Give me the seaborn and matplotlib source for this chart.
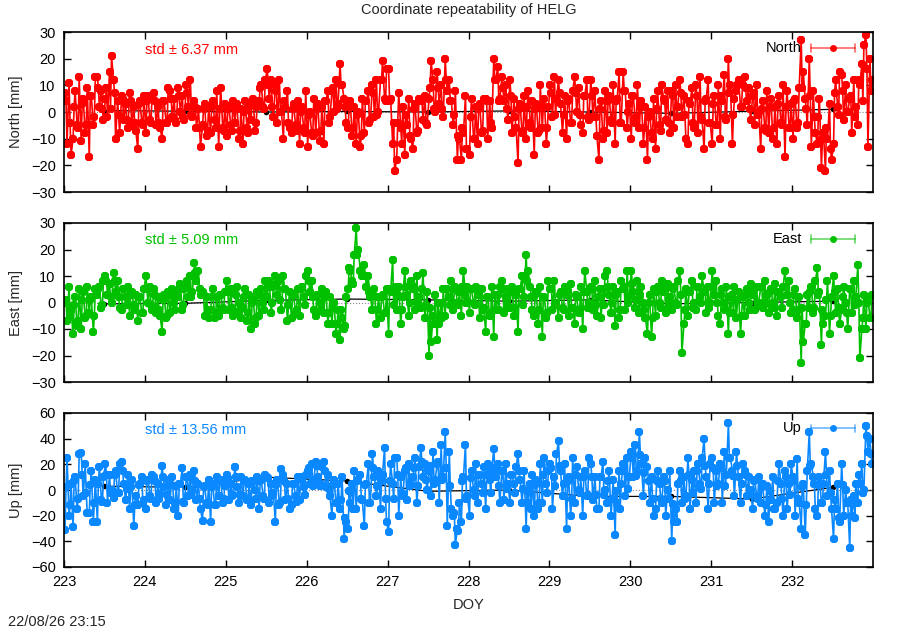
import numpy as np
import pandas as pd
import matplotlib
matplotlib.use("Agg")
import matplotlib.pyplot as plt
import seaborn as sns
from matplotlib.lines import Line2D

# ---------------- data ----------------
title = "Coordinate repeatability of HELG"
stamp = "22/08/26 23:15"
day_ticks = [223, 224, 225, 226, 227, 228, 229, 230, 231, 232]
epoch_start = 223.0125      # extreme-value epochs
epoch_step = 0.025
core_start = 223.025        # epochs of the dense core of the cloud
core_step = 0.05

north = [
    7, -12, 11, -16, -10, 8, -5, 13, -11, 5, -8, 9, -17, 6, -5, 13, 13, 2, 8, -3,
    5, -2, 15, 21, 12, -10, 4, -8, 6, -3, 3, -6, 7, -5, 2, -7, -14, 4, -4, 6,
    -8, 6, -3, 5, 7, -5, 2, -6, -10, 4, -4, 9, 8, -2, 5, -4, 9, 0, 6, -3,
    10, 2, 12, -2, 4, -6, 1, -13, -5, 3, -9, 2, -8, 4, -3, 8, -13, 9, -6, 3,
    -9, 2, -5, 4, -4, 3, -10, 1, -12, 4, -6, 2, -3, 5, -7, 2, 4, 10, 2, 12,
    16, 5, 12, -2, 10, -4, 12, 0, -10, 2, 8, -6, -8, 3, -5, 4, -12, 2, -6, 8,
    -13, 0, -8, 5, -8, 3, -11, 2, -12, 4, 8, -2, 8, 0, 12, 3, 18, 10, 5, -4,
    -6, 4, -9, 2, -12, 0, -13, 5, -8, 4, 8, -3, 10, -2, 12, 0, 12, 19, 5, 16,
    16, 5, -12, -22, -18, 7, -6, 2, -16, -5, 5, -10, -14, 3, -8, 5, 4, -3, 6, -5,
    5, 19, 12, 0, 15, 3, 10, -2, 20, 8, 12, 4, -5, 8, -18, -10, -18, -8, 6, -14,
    -16, 5, -10, 2, -12, 3, -8, 5, 5, -10, 4, -6, 20, 12, 17, 5, 13, 4, 10, -3,
    12, -8, 5, -6, -19, 3, -8, 6, -10, 8, -4, 4, -16, 3, -8, 10, -6, 5, -12, 2,
    10, -2, 13, 5, 12, 3, -8, 6, -10, 5, -4, 8, 13, 0, 9, -5, -8, 6, 12, -3,
    12, -2, 8, -9, -18, 4, -10, 8, -8, 6, -3, 10, -12, 5, 15, -4, 15, 8, -6, 3,
    -10, 6, -4, 10, -6, 4, -12, 2, -18, 0, -8, 5, -14, 8, -5, 10, 5, -3, 8, -8,
    8, -6, 10, 2, 12, -2, 6, -10, -12, 3, 9, -6, 10, -8, 13, -3, -14, 5, 12, -4,
    -12, 6, -5, 10, -10, 4, 14, -3, 20, 10, -12, 5, 8, 12, 2, 10, 13, 4, 9, -3,
    6, -5, 10, 0, -14, 4, -6, 8, -8, 5, -10, 2, -12, 6, -4, 10, -17, 8, -6, 3,
    -10, 5, -6, 9, 27, 15, 5, -5, 20, -13, 8, -8, -12, 5, -21, -8, -22, -10, 3, -18,
    -12, 12, 2, 15, 14, -3, 10, 0, 5, -8, 12, 2, -5, 10, 18, 25, 29, -13, 20, 12,
]
north_core = [
    4, -4, 2, -6, 3, -5, 6, -2, 9, 1, 9, 1, 7, -1, 5, -3, 4, -4, 3, -5,
    4, -4, 4, -4, 4, -4, 5, -3, 6, -2, 7, -1, 2, -6, 1, -7, 2, -6, 1, -7,
    1, -7, 1, -7, 0, -8, 4, -4, 9, 1, 10, 2, 8, 0, 4, -4, 1, -7, 0, -8,
    -1, -9, 1, -7, 4, -4, 9, 1, 10, 2, 2, -6, -1, -9, 4, -4, 7, -1, 12, 4,
    4, -4, -4, -12, -1, -9, 1, -7, 4, -4, 9, 1, 9, 1, 12, 4, -1, -9, -6, -14,
    -2, -10, 1, -7, 4, -4, 12, 4, 9, 1, 6, -2, 1, -7, 2, -6, 1, -7, 2, -6,
    7, -1, 7, -1, 4, -4, 7, -1, 6, -2, 6, -2, 1, -7, 4, -4, 4, -4, 8, 0,
    6, -2, 2, -6, -2, -10, 1, -7, 4, -4, 6, -2, 7, -1, 4, -4, 6, -2, 4, -4,
    3, -5, 6, -2, 7, -1, 10, 2, 9, 1, 7, -1, 1, -7, 2, -6, 3, -5, 2, -6,
    4, -4, 9, 1, 6, -2, -2, -10, -6, -14, 7, -1, 8, 0, 6, -2, 12, 4, 16, 8,
]

east = [
    0, -7, 6, -3, -12, 2, -9, 5, -10, 4, -6, 6, -4, 2, -11, 5, 3, 6, -2, 8,
    10, 3, 7, 0, 11, 4, 8, -2, -3, 5, 2, 6, -5, 4, -1, 3, -7, 2, -4, 5,
    10, 0, 6, -3, 5, -4, 2, -5, -11, 3, -6, 4, -4, 5, 0, 3, 2, 7, -3, 5,
    7, 2, 10, 4, 15, 8, 12, 3, 4, -5, 2, -6, -3, 5, -6, 2, -5, 3, -2, 4,
    8, -3, 5, -5, -4, 6, 0, -6, -2, 5, -7, 3, -10, 2, -8, 4, -5, 5, 0, 8,
    2, 8, -4, 6, 10, 3, 8, -3, 10, 5, -7, 4, -6, 3, -4, 5, -5, 6, 2, 10,
    12, 4, 8, -3, -5, 3, 0, 5, -4, 4, -8, 2, -8, 0, -12, -3, -14, -6, -10, 2,
    5, 12, 8, 18, 28, 20, 12, 10, 14, 6, 10, 2, -3, 5, -8, 2, -6, 3, -4, 5,
    -12, 4, 16, 6, -3, 6, -8, 2, 12, 3, -5, 8, 5, -3, 10, 2, -2, 11, -6, 4,
    -20, -15, -5, 3, -14, -8, 0, 5, -5, 5, 2, 8, -3, 6, 0, 4, -5, 12, 3, 6,
    -4, 5, 0, 6, 3, -6, 5, -2, -11, 2, -5, 6, -13, -3, 3, 6, 8, -4, 2, 5,
    -2, 6, -5, 3, -11, 5, 10, 2, 18, 12, 6, -3, -5, 4, -8, 6, -13, 2, -6, 8,
    5, -3, 8, 0, -6, 4, -2, 6, 3, -5, 7, -2, -8, 2, -4, 6, -10, 12, 4, 0,
    6, -3, 8, -5, 2, -6, 5, 10, 12, 3, -4, 6, -9, 4, -6, 8, 5, -3, 12, 2,
    12, 4, -2, 8, -4, 6, 0, -6, -12, 3, -13, 5, -5, 6, 0, 8, 4, -4, 7, 2,
    -3, 6, 0, 8, 12, -19, -8, 5, -5, 4, 8, 0, -3, 6, 2, 10, 4, -4, 6, 0,
    12, 3, 8, -5, -8, 5, 0, 6, -12, -4, 3, 6, -6, 4, -12, 2, -5, 5, 0, 7,
    3, -3, 6, 0, 6, -2, 8, 3, -4, 5, 0, 7, -5, 4, 2, 6, 12, 3, 8, -4,
    -3, 5, -6, 2, -23, -15, -8, 3, -2, 6, -4, 8, 13, 4, -16, -8, -5, 8, -12, 2,
    10, -4, 5, -8, -3, 6, 0, -10, 5, -4, 8, 2, 14, -21, -10, 3, -10, 2, -6, 3,
]
east_core = [
    1, -5, -1, -7, 1, -5, 1, -5, 5, -1, 8, 2, 8, 2, 5, -1, 3, -3, 2, -4,
    5, -1, 3, -3, 1, -5, 3, -3, 5, -1, 8, 2, 11, 5, 3, -3, 2, -4, 3, -3,
    4, -2, 3, -3, 2, -4, 0, -6, 3, -3, 6, 0, 7, 1, 5, -1, 3, -3, 5, -1,
    8, 2, 3, -3, 2, -4, -2, -8, -3, -9, 13, 7, 18, 12, 10, 4, 3, -3, 2, -4,
    5, -1, 3, -3, 6, 0, 6, 0, 5, -1, -2, -8, 0, -6, 5, -1, 5, -1, 6, 0,
    5, -1, 3, -3, 2, -4, 3, -3, 5, -1, 4, -2, 5, -1, 8, 2, 3, -3, 2, -4,
    5, -1, 3, -3, 4, -2, 3, -3, 4, -2, 5, -1, 5, -1, 6, 0, 3, -3, 6, 0,
    7, 1, 3, -3, 0, -6, 4, -2, 5, -1, 5, -1, 3, -3, 4, -2, 6, 0, 4, -2,
    6, 0, 3, -3, 2, -4, 1, -5, 3, -3, 5, -1, 6, 0, 4, -2, 4, -2, 6, 0,
    3, -3, -2, -8, 4, -2, 3, -3, 1, -5, 4, -2, 2, -4, 5, -1, 0, -6, 0, -6,
]

up = [
    -31, 25, -20, 5, -29, 10, -15, 28, 29, -5, 20, -18, -18, 15, -25, 8, -25, 18, -8, 10,
    20, -10, 12, 0, -6, 15, -2, 20, 22, 5, -8, 12, -15, 8, -28, -5, -12, 5, 10, -8,
    -15, 8, -5, 12, 10, -10, 5, -3, 19, 2, -12, 8, -8, 10, -15, 3, -20, 5, 17, -10,
    10, -5, 12, 0, 15, -8, 5, -15, -24, 3, -10, 8, -25, 5, -12, 10, -5, 8, -10, 3,
    12, -8, 5, -4, 18, 2, -10, 10, -5, 8, -8, 5, -12, 6, 0, 10, -15, 8, -5, 12,
    10, -10, 5, -2, -25, 8, -12, 16, 12, -8, 5, -15, -12, 5, -5, 10, -8, 8, 2, 12,
    15, 5, 20, 8, 22, 10, 3, 18, 22, 2, 12, -5, -20, 8, -10, 5, -15, 10, -38, -25,
    -30, -10, 5, 15, -15, 8, 12, -8, -28, 5, 20, -10, 28, 10, -5, 15, -15, 12, 33, -25,
    -33, 20, 5, 25, 25, -20, 10, -5, 15, -8, 20, 5, 10, 25, -10, 18, 33, 10, 20, 0,
    15, -5, 30, 8, 20, -10, 35, 10, 45, -28, 30, -15, -20, -43, -30, -10, -25, 10, 35, -5,
    -20, 15, 0, 20, -10, 12, 5, 18, -15, 20, 8, 15, 32, 10, 20, -10, 15, -8, 20, 5,
    -10, 12, 5, 18, 28, 8, -10, 15, -30, -10, 5, 12, -20, 8, -15, 20, -10, 25, 5, 15,
    20, -15, 10, 28, 38, 15, -5, 20, -30, 10, -20, 25, -10, 18, 0, 10, -20, 15, -5, 25,
    20, -8, 10, -15, -15, 10, 22, 0, -10, 15, -20, 8, -35, -10, 15, 5, 20, -5, 25, 10,
    30, 10, 35, 15, 45, 20, -5, 25, 18, -10, 10, -20, -15, 15, 5, -10, 10, -20, 0, 15,
    -40, -25, -15, 5, 15, -10, 10, -5, 25, -15, 8, 15, -10, 20, 5, 25, 40, 10, -15, 20,
    25, -10, 15, 5, 20, -10, 30, 12, 52, 25, 15, -5, 30, 10, -10, 20, 15, -5, 10, 0,
    -15, 8, -5, 10, -10, 5, -20, 3, -25, -8, 10, -15, -10, 20, 5, -20, 15, -15, 5, 20,
    10, -20, 24, -10, -30, 5, -35, 15, 45, 20, 10, -15, -20, 10, -10, 5, 30, -5, 15, -15,
    -38, -15, 5, -25, 20, -20, 0, -10, -45, -20, -5, 5, -10, 5, 20, 0, 50, 30, 40, 20,
]
up_core = [
    2, -12, 7, -7, 12, -2, 4, -10, 5, -9, 12, -2, 12, -2, 15, 1, 2, -12, 4, -10,
    7, -7, 7, -7, 10, -4, 4, -10, 5, -9, 10, -4, 7, -7, 2, -12, 2, -12, 7, -7,
    9, -5, 10, -4, 7, -7, 7, -7, 7, -7, 9, -5, 4, -10, 7, -7, 5, -9, 10, -4,
    17, 3, 19, 5, 15, 1, 4, -10, -8, -22, -1, -15, 7, -7, 4, -10, 17, 3, 7, -7,
    7, -7, 12, -2, 17, 3, 17, 3, 22, 8, 19, 5, 22, 8, 17, 3, -18, -32, 7, -7,
    9, -5, 12, -2, 12, -2, 17, 3, 15, 1, 12, -2, 15, 1, -1, -15, 4, -10, 12, -2,
    17, 3, 19, 5, 7, -7, 12, -2, 10, -4, 10, -4, 10, -4, 7, -7, -1, -15, 15, 1,
    25, 11, 27, 13, 7, -7, 7, -7, 7, -7, -11, -25, 7, -7, 12, -2, 15, 1, 19, 5,
    17, 3, 17, 3, 25, 11, 19, 5, 12, -2, 7, -7, 2, -12, -1, -15, 7, -7, 10, -4,
    7, -7, 2, -12, 19, 5, 4, -10, 12, -2, -8, -22, 4, -10, -8, -22, 12, -2, 42, 28,
]

# daily solutions (black)
daily_doy = [223.5, 224.5, 225.5, 226.5, 227.5, 228.5, 229.5, 230.5, 231.5, 232.5]
daily_north = [0.5, 0.3, 0.0, 0.2, 0.0, 0.4, 0.0, -0.5, 0.3, 1.0]
daily_east = [-0.5, -0.3, 0.8, 1.3, 1.0, 0.5, 1.0, -0.5, 0.0, 0.5]
daily_up = [3, 2, 10, 7, -1, 0, -5, -5, -7, 2]

std_texts = ["std \u00b1 6.37 mm", "std \u00b1 5.09 mm", "std \u00b1 13.56 mm"]
names = ["North", "East", "Up"]
ylabels = ["North [mm]", "East [mm]", "Up [mm]"]
colors = ["#ff0000", "#00c000", "#0a88ff"]
ylims = [(-30, 30), (-30, 30), (-60, 60)]
yticks = [[-30, -20, -10, 0, 10, 20, 30], [-30, -20, -10, 0, 10, 20, 30],
          [-60, -40, -20, 0, 20, 40, 60]]

# ---------------- plotting ----------------
sns.set_theme(style="white")
plt.rcParams["font.family"] = ["Liberation Sans", "DejaVu Sans"]
plt.rcParams["font.size"] = 10.5

epochs = epoch_start + epoch_step * np.arange(len(north))
core_epochs = core_start + core_step * np.arange(len(north_core))
df_main = pd.DataFrame({"doy": epochs, "North": north, "East": east, "Up": up})
df_core = pd.DataFrame({"doy": core_epochs, "North": north_core,
                        "East": east_core, "Up": up_core})
df = pd.concat([df_main, df_core]).sort_values("doy").reset_index(drop=True)
dfd = pd.DataFrame({"doy": daily_doy, "North": daily_north,
                    "East": daily_east, "Up": daily_up})

fig = plt.figure(figsize=(9, 6.3), dpi=100)
W, H = 900.0, 630.0
left, width = 64 / W, 809 / W
panels = [(32, 192), (223, 382), (413, 567)]

for i, name in enumerate(names):
    top_px, bot_px = panels[i]
    ax = fig.add_axes([left, 1 - bot_px / H, width, (bot_px - top_px) / H])
    ax.axhline(0, color="#888888", lw=0.8, ls=":", zorder=1)
    sns.lineplot(data=dfd, x="doy", y=name, ax=ax, color="black", lw=0.9,
                 marker="o", markersize=4, markeredgewidth=0,
                 estimator=None, sort=False, zorder=2)
    sns.lineplot(data=df, x="doy", y=name, ax=ax, color=colors[i], lw=1.2,
                 marker="8", markersize=6.8, markeredgewidth=0,
                 estimator=None, sort=False, zorder=3)
    ax.set_xlim(223, 233)
    ax.set_ylim(*ylims[i])
    ax.set_yticks(yticks[i])
    ax.set_xticks(day_ticks)
    ax.set_xlabel("")
    ax.set_ylabel("")
    ax.tick_params(direction="in", length=5, width=1, color="black",
                   top=True, right=True, bottom=True, left=True,
                   labelsize=10.5, pad=6, labelcolor="black")
    if i < 2:
        ax.tick_params(labelbottom=False)
    for sp in ax.spines.values():
        sp.set_color("black")
        sp.set_linewidth(1.2)
        sp.set_zorder(10)
    ax.text(0.1, 0.89, std_texts[i], transform=ax.transAxes, color=colors[i],
            fontsize=10.5, ha="left", va="center", zorder=8)
    # gnuplot-style key
    ax.text(0.912, 0.9, name, transform=ax.transAxes, color="black",
            fontsize=10.5, ha="right", va="center", zorder=8)
    kc = colors[i]
    ax.add_line(Line2D([0.923, 0.978], [0.9, 0.9], transform=ax.transAxes,
                       color=kc, alpha=0.6, lw=1.2, zorder=5))
    for xc in (0.923, 0.978):
        ax.add_line(Line2D([xc, xc], [0.875, 0.925], transform=ax.transAxes,
                           color=kc, alpha=0.6, lw=1.2, zorder=5))
    ax.add_line(Line2D([0.951], [0.9], transform=ax.transAxes, color=kc,
                       marker="o", markersize=5, markeredgewidth=0, zorder=6))
    fig.text(16 / W, 1 - (top_px + bot_px) / 2 / H, ylabels[i], rotation=90,
             ha="center", va="center", fontsize=10.5)

fig.text(468.5 / W, 1 - 10 / H, title, ha="center", va="center", fontsize=10.5)
fig.text(468.5 / W, 1 - 605 / H, "DOY", ha="center", va="center", fontsize=10.5)
fig.text(8 / W, 1 - 622 / H, stamp, ha="left", va="center", fontsize=10.5)

fig.savefig("out.png", dpi=100)
